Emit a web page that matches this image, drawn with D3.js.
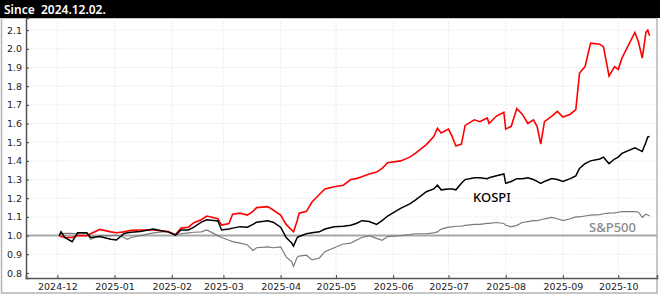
<!DOCTYPE html>
<html>
<head>
<meta charset="utf-8">
<script src="https://cdn.jsdelivr.net/npm/d3@7"></script>
<style>
  body { margin: 0; background: #fff; }
  svg { display: block; }
</style>
</head>
<body>
<svg id="chart"></svg>
<script>
// Chart data
const dates = [
  "2024-12-02","2024-12-03","2024-12-05","2024-12-09","2024-12-12","2024-12-17","2024-12-19","2024-12-24","2024-12-30",
  "2025-01-02","2025-01-06","2025-01-08","2025-01-10","2025-01-15","2025-01-22","2025-01-27","2025-01-30",
  "2025-02-03","2025-02-06","2025-02-10","2025-02-13","2025-02-17","2025-02-20","2025-02-26","2025-02-28",
  "2025-03-04","2025-03-06","2025-03-10","2025-03-14","2025-03-17","2025-03-19","2025-03-25","2025-03-28",
  "2025-04-01","2025-04-04","2025-04-07","2025-04-08","2025-04-10","2025-04-11","2025-04-15","2025-04-18","2025-04-22","2025-04-25","2025-04-30",
  "2025-05-05","2025-05-09","2025-05-12","2025-05-15","2025-05-19","2025-05-23","2025-05-26","2025-05-29",
  "2025-06-05","2025-06-10","2025-06-13","2025-06-19","2025-06-23","2025-06-25","2025-06-27",
  "2025-07-01","2025-07-03","2025-07-05","2025-07-08","2025-07-10","2025-07-15","2025-07-18","2025-07-22","2025-07-23","2025-07-27","2025-07-31",
  "2025-08-01","2025-08-04","2025-08-07","2025-08-10","2025-08-13","2025-08-16","2025-08-18","2025-08-20","2025-08-22","2025-08-26","2025-08-29",
  "2025-09-01","2025-09-05","2025-09-08","2025-09-10","2025-09-13","2025-09-16","2025-09-21","2025-09-23","2025-09-26","2025-09-29",
  "2025-10-01","2025-10-03","2025-10-10","2025-10-12","2025-10-14","2025-10-16","2025-10-17","2025-10-18"
]

const stockValues = [
  1.0, 0.995, 0.99, 0.99, 1.0, 1.0, 1.01, 1.033, 1.02,
  1.015, 1.02, 1.025, 1.028, 1.03, 1.03, 1.025, 1.022,
  1.005, 1.04, 1.045, 1.069, 1.085, 1.105, 1.09, 1.056,
  1.065, 1.114, 1.12, 1.11, 1.13, 1.15, 1.155, 1.137,
  1.11, 1.06, 1.03, 1.02, 1.08, 1.12, 1.13, 1.18, 1.22, 1.25, 1.262,
  1.27, 1.30, 1.305, 1.315, 1.33, 1.34, 1.36, 1.39,
  1.40, 1.42, 1.44, 1.487, 1.53, 1.575, 1.55,
  1.57, 1.53, 1.48, 1.49, 1.59, 1.62, 1.61, 1.63, 1.60, 1.64, 1.66,
  1.57, 1.585, 1.68, 1.65, 1.60, 1.62, 1.585, 1.49, 1.61, 1.64, 1.665,
  1.635, 1.65, 1.675, 1.87, 1.905, 2.03, 2.025, 2.01, 1.855, 1.905,
  1.89, 1.95, 2.088, 2.035, 1.95, 2.088, 2.1, 2.07
]

const kospiValues = [
  1.0, 1.02, 0.99, 0.967, 1.015, 1.015, 0.99, 0.995, 0.98,
  0.976, 1.01, 1.015, 1.018, 1.022, 1.035, 1.025, 1.02,
  1.003, 1.03, 1.03, 1.045, 1.072, 1.085, 1.078, 1.03,
  1.035, 1.04, 1.048, 1.045, 1.06, 1.072, 1.08, 1.072,
  1.045, 0.99, 0.96, 0.944, 0.99, 0.995, 1.01, 1.015, 1.02, 1.035, 1.047,
  1.05, 1.055, 1.065, 1.08, 1.075, 1.06, 1.08, 1.105,
  1.146, 1.17, 1.19, 1.235, 1.25, 1.27, 1.245,
  1.25, 1.25, 1.245, 1.28, 1.30, 1.31, 1.31, 1.305, 1.31, 1.32, 1.33,
  1.28, 1.29, 1.305, 1.305, 1.31, 1.30, 1.29, 1.28, 1.29, 1.305, 1.30,
  1.29, 1.305, 1.32, 1.36, 1.385, 1.40, 1.41, 1.42, 1.385, 1.41,
  1.42, 1.44, 1.47, 1.46, 1.45, 1.50, 1.528, 1.53
]

const spValues = [
  1.0, 1.01, 1.012, 1.012, 1.01, 1.01, 0.98, 1.0, 1.0,
  1.003, 0.99, 0.98, 0.99, 1.0, 1.015, 1.02, 1.02,
  1.003, 1.01, 1.015, 1.018, 1.02, 1.03, 1.0, 0.99,
  0.975, 0.968, 0.96, 0.95, 0.92, 0.935, 0.94, 0.935,
  0.94, 0.886, 0.86, 0.835, 0.885, 0.89, 0.895, 0.87, 0.88, 0.914, 0.935,
  0.955, 0.96, 0.975, 0.99, 1.0, 0.985, 0.975, 0.995,
  1.0, 1.005, 1.01, 1.01, 1.015, 1.02, 1.035,
  1.045, 1.047, 1.05, 1.05, 1.055, 1.06, 1.06, 1.065, 1.065, 1.07, 1.065,
  1.055, 1.047, 1.055, 1.07, 1.075, 1.08, 1.08, 1.085, 1.09, 1.098, 1.09,
  1.08, 1.09, 1.10, 1.10, 1.105, 1.11, 1.112, 1.117, 1.12, 1.122,
  1.125, 1.128, 1.128, 1.125, 1.098, 1.115, 1.11, 1.105
]

const monthTicks = ["2024-12","2025-01","2025-02","2025-03","2025-04","2025-05","2025-06","2025-07","2025-08","2025-09","2025-10"]
const yTicks = [0.8, 0.9, 1.0, 1.1, 1.2, 1.3, 1.4, 1.5, 1.6, 1.7, 1.8, 1.9, 2.0, 2.1]
const headerText = "Since  2024.12.02."

const width = 660
const height = 296
const plotLeft = 26, plotRight = 657, plotTop = 18, plotBottom = 278

const parse = d3.utcParse("%Y-%m-%d")
const parseMonth = d3.utcParse("%Y-%m")

const svg = d3.select("#chart")
  .attr("width", width)
  .attr("height", height)

// Scales
const x = d3.scaleUtc()
  .domain([parse("2024-11-14"), parse("2025-10-22")])
  .range([plotLeft, plotRight])

const y = d3.scaleLinear()
  .domain([0.773, 2.165])
  .range([plotBottom, plotTop])

// Outer frame
svg.append("rect")
  .attr("x", 1.5).attr("y", plotTop)
  .attr("width", plotRight - 1.5).attr("height", 293 - plotTop)
  .attr("fill", "none")
  .attr("stroke", "#b4b4b4")
  .attr("stroke-width", 1.5)

// Header bar
svg.append("rect")
  .attr("x", 0).attr("y", 0)
  .attr("width", width).attr("height", plotTop)
  .attr("fill", "#000")

svg.append("text")
  .attr("x", 4).attr("y", 13.5)
  .attr("fill", "#fff")
  .attr("font-family", "Noto Sans")
  .attr("font-weight", 600)
  .attr("font-size", "12px")
  .style("white-space", "pre")
  .text(headerText)

// Grid lines
svg.append("g")
  .selectAll("line")
  .data(yTicks)
  .join("line")
  .attr("x1", plotLeft).attr("x2", plotRight)
  .attr("y1", d => y(d)).attr("y2", d => y(d))
  .attr("stroke", "#d9d9d9")
  .attr("stroke-width", 0.8)
  .attr("stroke-dasharray", "1,1.5")

svg.append("g")
  .selectAll("line")
  .data(monthTicks)
  .join("line")
  .attr("x1", d => x(parseMonth(d))).attr("x2", d => x(parseMonth(d)))
  .attr("y1", plotTop).attr("y2", plotBottom)
  .attr("stroke", "#d9d9d9")
  .attr("stroke-width", 0.8)
  .attr("stroke-dasharray", "1,1.5")

// Baseline at 1.0
svg.append("line")
  .attr("x1", plotLeft).attr("x2", plotRight)
  .attr("y1", y(1)).attr("y2", y(1))
  .attr("stroke", "#a8a8a8")
  .attr("stroke-width", 2)

// Lines
const line = values => d3.line()
  .x(d => x(parse(d)))
  .y((d, i) => y(values[i]))(dates)

svg.append("path")
  .attr("d", line(spValues))
  .attr("fill", "none")
  .attr("stroke", "#7a7a7a")
  .attr("stroke-width", 1.2)

svg.append("path")
  .attr("d", line(stockValues))
  .attr("fill", "none")
  .attr("stroke", "#ff0000")
  .attr("stroke-width", 1.6)

svg.append("path")
  .attr("d", line(kospiValues))
  .attr("fill", "none")
  .attr("stroke", "#000")
  .attr("stroke-width", 1.5)

// Axes
svg.append("g")
  .attr("transform", `translate(${plotLeft},0)`)
  .call(d3.axisLeft(y)
    .tickValues(yTicks)
    .tickFormat(d3.format(".1f"))
    .tickSize(-3)
    .tickPadding(4))
  .call(g => g.select(".domain").attr("stroke", "#555").attr("stroke-width", 1.5))
  .call(g => g.selectAll(".tick line").attr("stroke", "#444"))
  .call(g => g.selectAll(".tick text")
    .attr("fill", "#222")
    .attr("font-family", "DejaVu Sans")
    .attr("font-size", "9.5px"))

svg.append("g")
  .attr("transform", `translate(0,${plotBottom})`)
  .call(d3.axisBottom(x)
    .tickValues(monthTicks.map(parseMonth))
    .tickFormat(d3.utcFormat("%Y-%m"))
    .tickSize(-3)
    .tickPadding(5))
  .call(g => g.select(".domain").attr("stroke", "#555").attr("stroke-width", 1.5))
  .call(g => g.selectAll(".tick line").attr("stroke", "#444"))
  .call(g => g.selectAll(".tick text")
    .attr("fill", "#222")
    .attr("font-family", "DejaVu Sans")
    .attr("font-size", "9.5px"))

// Series labels
svg.append("text")
  .attr("x", 473).attr("y", 202)
  .attr("fill", "#000")
  .attr("font-family", "Noto Sans")
  .attr("font-weight", 500)
  .attr("font-size", "13px")
  .text("KOSPI")

svg.append("text")
  .attr("x", 589).attr("y", 232)
  .attr("fill", "#8a8a8a")
  .attr("font-family", "Noto Sans")
  .attr("font-weight", 500)
  .attr("font-size", "13px")
  .text("S&P500")
</script>
</body>
</html>
